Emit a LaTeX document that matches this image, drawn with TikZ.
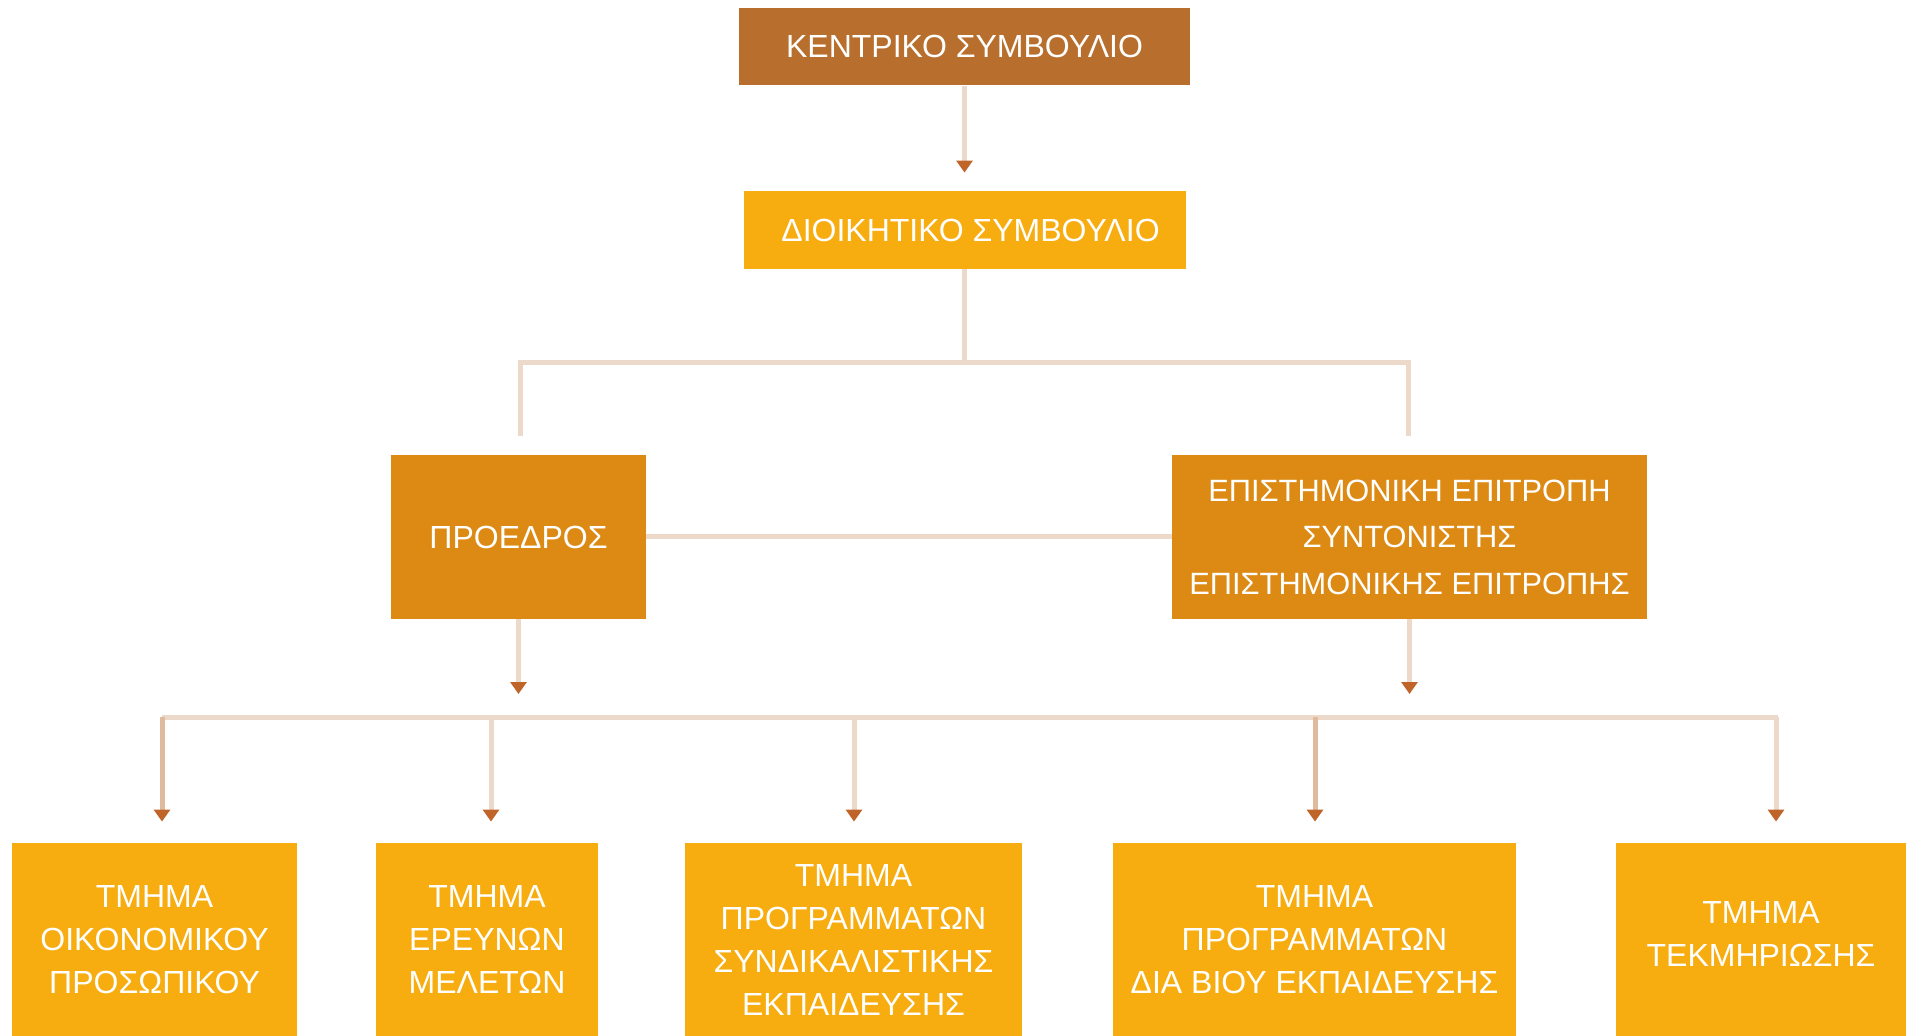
\documentclass[tikz,border=0pt]{standalone}
\usepackage{fontspec}
\setmainfont{Liberation Sans}
\usepackage{tikz}
\usetikzlibrary{arrows.meta}

\definecolor{brownbox}{HTML}{B86F2D}
\definecolor{orangebox}{HTML}{DD8A14}
\definecolor{yellowbox}{HTML}{F7AC0F}
\definecolor{linec}{HTML}{EDD9CA}
\definecolor{linedark}{HTML}{DFBA9C}
\definecolor{tipc}{HTML}{C0652A}

\begin{document}
\begin{tikzpicture}[x=0.5pt,y=-0.5pt]
		\path[use as bounding box, clip] (0,0) rectangle (1910,1036);

		\begin{scope}[every node/.style={fill=yellowbox,text=white,align=center,inner sep=0pt,
					  font=\fontsize{16}{21.5}\selectfont}]
			\node[fill=brownbox,minimum width=225.5pt,minimum height=38.5pt] (K) at (964.5,46.75) {ΚΕΝΤΡΙΚΟ ΣΥΜΒΟΥΛΙΟ};
			\node[minimum width=221pt,minimum height=39pt] (D) at (964.5,230) {\hspace*{6pt}ΔΙΟΙΚΗΤΙΚΟ ΣΥΜΒΟΥΛΙΟ};
			\node[fill=orangebox,minimum width=127.5pt,minimum height=82pt] (P) at (518.5,537) {ΠΡΟΕΔΡΟΣ};
			\node[fill=orangebox,minimum width=237.5pt,minimum height=82pt,
				  font=\fontsize{15.4}{23.25}\selectfont] (E) at (1409.5,537)
				{ΕΠΙΣΤΗΜΟΝΙΚΗ ΕΠΙΤΡΟΠΗ\\ΣΥΝΤΟΝΙΣΤΗΣ\\ΕΠΙΣΤΗΜΟΝΙΚΗΣ ΕΠΙΤΡΟΠΗΣ};
		\end{scope}

		\begin{scope}[every node/.style={fill=yellowbox,text=white,align=center,inner sep=0pt,
					  minimum height=96.5pt,font=\fontsize{16}{21.5}\selectfont}]
			\node[minimum width=142.5pt] (T1) at (154.5,939.5) {ΤΜΗΜΑ\\ΟΙΚΟΝΟΜΙΚΟΥ\\ΠΡΟΣΩΠΙΚΟΥ};
			\node[minimum width=111pt] (T2) at (487,939.5) {ΤΜΗΜΑ\\ΕΡΕΥΝΩΝ\\ΜΕΛΕΤΩΝ};
			\node[minimum width=168.5pt] (T3) at (853.5,939.5) {ΤΜΗΜΑ\\ΠΡΟΓΡΑΜΜΑΤΩΝ\\ΣΥΝΔΙΚΑΛΙΣΤΙΚΗΣ\\ΕΚΠΑΙΔΕΥΣΗΣ};
			\node[minimum width=201.5pt] (T4) at (1314.5,939.5) {ΤΜΗΜΑ\\ΠΡΟΓΡΑΜΜΑΤΩΝ\\ΔΙΑ ΒΙΟΥ ΕΚΠΑΙΔΕΥΣΗΣ};
			\node[minimum width=145pt] (T5) at (1761,939.5) {ΤΜΗΜΑ\\ΤΕΚΜΗΡΙΩΣΗΣ\\[-16pt]};
		\end{scope}

		\begin{scope}[link/.style={draw=linec,line width=2.5pt},
					  conn/.style={link,-{Triangle[width=8pt,length=6pt,color=tipc]}}]
			\coordinate (hL) at (520,363);
			\coordinate (hR) at (1408,363);
			\coordinate (bL) at (162,717);
			\coordinate (bR) at (1778,717);

			\draw[conn,shorten >=9pt] (K) -- (D);
			\draw[link] (D) -- (D |- hL);
			\draw[link,shorten <=9.5pt,shorten >=9.5pt] (hL |- P.north) -- (hL) -- (hR) -- (hR |- E.north);
			\draw[link] (P) -- (E);
			\draw[conn,shorten >=11.5pt] (P.south) -- (P.south |- bL);
			\draw[conn,shorten >=11.5pt] (E.south) -- (E.south |- bL);
			\draw[link] (bL) -- (bR);

			\foreach \n/\x/\c in {1/162/linedark, 2/491/linec, 3/854/linec, 4/1315/linedark, 5/1776/linec} {
				\coordinate (s\n) at (\x,717);
				\draw[conn,draw=\c,shorten >=10.5pt] (s\n) -- (s\n |- T\n.north);
			}
		\end{scope}
\end{tikzpicture}
\end{document}
